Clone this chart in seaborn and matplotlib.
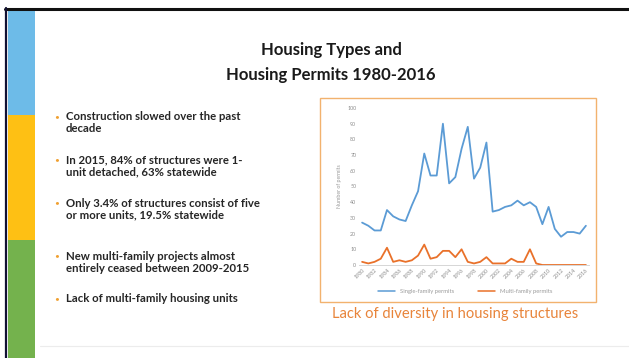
import matplotlib
matplotlib.use("Agg")
import matplotlib.pyplot as plt
import numpy as np
import pandas as pd
import seaborn as sns
from matplotlib.patches import Rectangle
from matplotlib.lines import Line2D

# ---- data -------------------------------------------------------------
years = list(range(1980, 2017))
single_family = [27, 25, 22, 22, 35, 31, 29, 28, 38, 47, 71, 57, 57, 90, 52, 56, 74, 88, 55,
                 62, 78, 34, 35, 37, 38, 41, 38, 40, 37, 26, 37, 23, 18, 21, 21, 20, 25]
multi_family = [2, 1, 2, 4, 11, 2, 3, 2, 3, 6, 13, 4, 5, 9, 9, 5, 10, 2, 1,
                2, 5, 1, 1, 1, 4, 2, 2, 10, 1, 0, 0, 0, 0, 0, 0, 0, 0]
series_names = ["Single-family permits", "Multi-family permits"]
y_ticks = list(range(0, 101, 10))

title_lines = ["Housing Types and", "Housing Permits 1980-2016"]
bullets = [
    ["Construction slowed over the past", "decade"],
    ["In 2015, 84% of structures were 1-", "unit detached, 63% statewide"],
    ["Only 3.4% of structures consist of five", "or more units, 19.5% statewide"],
    ["New multi-family projects almost", "entirely ceased between 2009-2015"],
    ["Lack of multi-family housing units"],
]
caption = "Lack of diversity in housing structures"

df = pd.DataFrame({"Year": years,
                   series_names[0]: single_family,
                   series_names[1]: multi_family})

# ---- figure -----------------------------------------------------------
sns.set_theme(style="white")
plt.rcParams["font.family"] = ["Lato", "DejaVu Sans"]

W, H = 629, 358
fig = plt.figure(figsize=(W / 100, H / 100), dpi=100)
fig.patch.set_facecolor("white")


def fx(x):
    return x / W


def fy(y):
    return 1 - y / H


# slide frame and coloured side band
fig.add_artist(Line2D([fx(5), fx(629)], [fy(9), fy(9)], color="#111111", lw=2.2))
fig.add_artist(Line2D([fx(6.5), fx(6.5)], [fy(8), fy(358)], color="#111133", lw=1.6))
for y0, y1, c in [(10, 115, "#6dbbe8"), (115, 240, "#fec014"), (240, 358, "#74b24d")]:
    fig.add_artist(Rectangle((fx(8), fy(y1)), fx(35) - fx(8), fy(y0) - fy(y1),
                             color=c, transform=fig.transFigure, lw=0))
fig.add_artist(Line2D([fx(40), fx(629)], [fy(346), fy(346)], color="#ececec", lw=0.8))

# title
fig.text(fx(331), fy(50), title_lines[0], ha="center", va="center",
         fontsize=12, fontweight="bold", color="#1a1a1a")
fig.text(fx(331), fy(75), title_lines[1], ha="center", va="center",
         fontsize=12, fontweight="bold", color="#1a1a1a")

# bullet list
line_gap = 12
starts = [117, 160, 203, 256, 299]
for start, lines in zip(starts, bullets):
    fig.text(fx(57), fy(start), "•", ha="center", va="center",
             fontsize=6, color="#f0a030")
    for k, line in enumerate(lines):
        fig.text(fx(66), fy(start + k * line_gap), line, ha="left", va="center",
                 fontsize=8.2, fontweight="bold", color="#262626")

# chart box
fig.add_artist(Rectangle((fx(320), fy(302)), fx(596) - fx(320), fy(98) - fy(302),
                         fill=False, ec="#f2b26e", lw=1.0, transform=fig.transFigure))
fig.text(fx(455), fy(314), caption, ha="center", va="center",
         fontsize=10.6, color="#e8843a")

# ---- line chart -------------------------------------------------------
ax = fig.add_axes([fx(359), fy(265), fx(589) - fx(359), fy(108) - fy(265)])
sns.lineplot(data=df, x="Year", y=series_names[0], color="#5b9bd5", lw=1.3, ax=ax,
             label=series_names[0], legend=False)
sns.lineplot(data=df, x="Year", y=series_names[1], color="#e9712a", lw=1.3, ax=ax,
             label=series_names[1], legend=False)
ax.set_xlim(years[0] - 0.5, years[-1] + 0.5)
ax.set_ylim(0, 100)
ax.set_yticks(y_ticks)
ax.set_xticks(years[::2])
ax.set_xticklabels([str(y) for y in years[::2]], rotation=45, ha="right",
                   rotation_mode="anchor")
ax.tick_params(axis="both", labelsize=3.8, colors="#8c8c8c", length=0, pad=2)
ax.set_xlabel("")
ax.set_ylabel("Number of permits", fontsize=3.8, color="#9a9a9a", labelpad=4)
for side in ["top", "right", "left"]:
    ax.spines[side].set_visible(False)
ax.spines["bottom"].set_color("#d0d0d0")
ax.spines["bottom"].set_linewidth(0.6)
ax.set_facecolor("white")

handles = [Line2D([], [], color="#5b9bd5", lw=1.1),
           Line2D([], [], color="#e9712a", lw=1.1)]
fig.legend(handles, series_names, loc="center", bbox_to_anchor=(fx(465), fy(291)),
           ncol=2, frameon=False, fontsize=4.2, labelcolor="#9a9a9a",
           handlelength=3, columnspacing=4, handletextpad=0.8)

fig.savefig("out.png", dpi=100, facecolor="white")
